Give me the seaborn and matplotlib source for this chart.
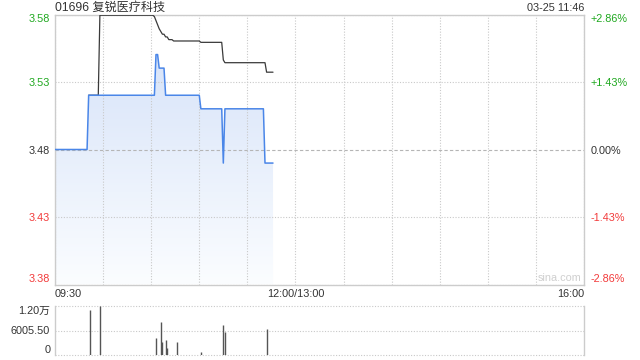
import numpy as np
import pandas as pd
import matplotlib
matplotlib.use("Agg")
import matplotlib.pyplot as plt
import seaborn as sns
from matplotlib.colors import LinearSegmentedColormap
from matplotlib.patches import PathPatch

# ---------------- data ----------------
title = "01696 复锐医疗科技"
stamp = "03-25 11:46"
prev_close = 3.48
pct_ticks = [2.86, 1.43, 0.0, -1.43, -2.86]
x_tick_labels = ["09:30", "12:00/13:00", "16:00"]
x_tick_minutes = [0, 150, 330]
session_minutes = 330

# price per minute: levels and how many minutes each lasted (from 09:30)
price_levels = [3.48, 3.52, 3.55, 3.54, 3.52, 3.51, 3.47, 3.51, 3.47]
price_durations = [21, 42, 2, 4, 22, 14, 1, 25, 6]

# average price line, starting at minute 21
avg_start = 21
avg_levels = [3.52, 3.579, 3.578, 3.575, 3.572, 3.569, 3.567, 3.565, 3.563,
              3.561, 3.560, 3.559, 3.546, 3.544, 3.537]
avg_durations = [7, 34, 1, 1, 1, 1, 1, 2, 2, 3, 17, 14, 1, 26, 5]

# volume bars
vol_minutes = [22, 28, 63, 66, 67, 69, 70, 76, 91, 105, 106, 132]
vol_values = [11030, 12011, 4240, 8160, 3190, 3680, 1790, 3260, 810, 7350, 5710, 6300]
vol_max = 12011
vol_tick_labels = ["0", "6005.50", "1.20万"]

# ---------------- build frames ----------------
price = np.repeat(price_levels, price_durations)
df_price = pd.DataFrame({"minute": np.arange(len(price)), "price": price})
avg = np.repeat(avg_levels, avg_durations)
df_avg = pd.DataFrame({"minute": np.arange(avg_start, avg_start + len(avg)), "avg": avg})
df_vol = pd.DataFrame({"minute": vol_minutes, "vol": vol_values})

# ---------------- style ----------------
sns.set_style("white")
plt.rcParams["font.family"] = ["Liberation Sans", "Noto Sans CJK SC", "DejaVu Sans"]
FS = 7.8
GREEN = "#1fa81f"
RED = "#f23a3a"
DARK = "#333333"
GRID = "#c9c9c9"
BORDER = "#cccccc"
BLUE = "#4a86e8"

fig = plt.figure(figsize=(6.4, 3.6), dpi=100)
W, H = 640.0, 360.0
left, right = 55, 584
top, bottom = 14.5, 284.5
ax = fig.add_axes([left / W, 1 - bottom / H, (right - left) / W, (bottom - top) / H])
vtop, vbot = 306, 355
axv = fig.add_axes([left / W, 1 - vbot / H, (right - left) / W, (vbot - vtop) / H])

lo = prev_close * (1 + pct_ticks[-1] / 100)
hi = prev_close * (1 + pct_ticks[0] / 100)
ax.set_xlim(0, session_minutes)
ax.set_ylim(lo, hi)

# gradient fill under price
poly = ax.fill_between(df_price["minute"], df_price["price"], lo, color="none", lw=0)
path = poly.get_paths()[0]
cmap = LinearSegmentedColormap.from_list("g", ["#fbfdff", "#d8e4f9"])
grad = np.linspace(0, 1, 256).reshape(-1, 1)
im = ax.imshow(grad, extent=[0, len(price), lo, max(price_levels)], origin="lower",
               aspect="auto", cmap=cmap, zorder=1, interpolation="bilinear")
clip = PathPatch(path, transform=ax.transData, facecolor="none", edgecolor="none")
ax.add_patch(clip)
im.set_clip_path(clip)
ax.set_xlim(0, session_minutes)
ax.set_ylim(lo, hi)

sns.lineplot(data=df_avg, x="minute", y="avg", ax=ax, color="#3a3a3a", lw=0.9, zorder=3)
sns.lineplot(data=df_price, x="minute", y="price", ax=ax, color=BLUE, lw=1.1, zorder=4)

# grid / ticks
ax.set_xticks(list(range(0, session_minutes + 1, 30)))
xl = ["" for _ in range(0, session_minutes + 1, 30)]
for m, lab in zip(x_tick_minutes, x_tick_labels):
    xl[m // 30] = lab
ax.set_xticklabels(xl)
ticklabs = ax.get_xticklabels()
ticklabs[0].set_ha("left")
ticklabs[-1].set_ha("right")
ax.tick_params(axis="x", length=0, pad=3, labelsize=FS, labelcolor=DARK)

yt = [prev_close * (1 + p / 100) for p in pct_ticks]
ax.set_yticks(yt)
ax.set_yticklabels([f"{v:.2f}" for v in yt])
ax.tick_params(axis="y", length=0, pad=3.5, labelsize=FS)
cols = [GREEN if p > 0 else (RED if p < 0 else DARK) for p in pct_ticks]
for lab, c in zip(ax.get_yticklabels(), cols):
    lab.set_color(c)
ax.get_yticklabels()[0].set_va("top")
ax.get_yticklabels()[-1].set_va("bottom")

ax.set_axisbelow("line")
ax.grid(True, color=GRID, lw=0.8, ls=(0, (1, 1.5)))
for i, gl in enumerate(ax.get_ygridlines()):
    if pct_ticks[i] == 0:
        gl.set_linestyle((0, (3, 2)))
        gl.set_color("#b5b5b5")
ax.set_xlabel("")
ax.set_ylabel("")
for s in ax.spines.values():
    s.set_visible(True)
    s.set_color(BORDER)
    s.set_linewidth(1)

# right percentage axis
ax2 = ax.twinx()
ax2.set_ylim(lo, hi)
ax2.set_yticks(yt)
ax2.set_yticklabels([("+" if p > 0 else "") + f"{p:.2f}%" for p in pct_ticks])
ax2.tick_params(axis="y", length=0, pad=5, labelsize=FS)
for lab, c in zip(ax2.get_yticklabels(), cols):
    lab.set_color(c)
ax2.get_yticklabels()[0].set_va("top")
ax2.get_yticklabels()[-1].set_va("bottom")
for s in ax2.spines.values():
    s.set_visible(False)

# texts
fig.text(left / W, 1 - 8 / H, title, fontsize=8.7, color=DARK, ha="left", va="center")
fig.text(right / W, 1 - 8 / H, stamp, fontsize=FS, color=DARK, ha="right", va="center")
ax.text(0.995, 0.005, "sina.com", transform=ax.transAxes, fontsize=FS, color="#cfcfcf",
        ha="right", va="bottom")

# volume
axv.set_xlim(0, session_minutes)
axv.set_ylim(0, vol_max)
axv.vlines(df_vol["minute"], 0, df_vol["vol"], color="#555555", lw=1)
axv.set_xticks([])
vt = [0, vol_max / 2, vol_max]
axv.set_yticks(vt)
axv.set_yticklabels(vol_tick_labels)
axv.tick_params(axis="y", length=0, pad=3.5, labelsize=FS, labelcolor=DARK)
axv.get_yticklabels()[0].set_va("bottom")
axv.get_yticklabels()[-1].set_va("top")
axv.grid(True, axis="y", color=GRID, lw=0.8, ls=(0, (1, 1.5)))
for gl in axv.get_ygridlines():
    gl.set_clip_on(False)
axv.spines["top"].set_visible(False)
axv.spines["bottom"].set_visible(False)
for k in ("left", "right"):
    axv.spines[k].set_visible(True)
    axv.spines[k].set_color(BORDER)
    axv.spines[k].set_linewidth(1)

fig.savefig("out.png", dpi=100, facecolor="white")
